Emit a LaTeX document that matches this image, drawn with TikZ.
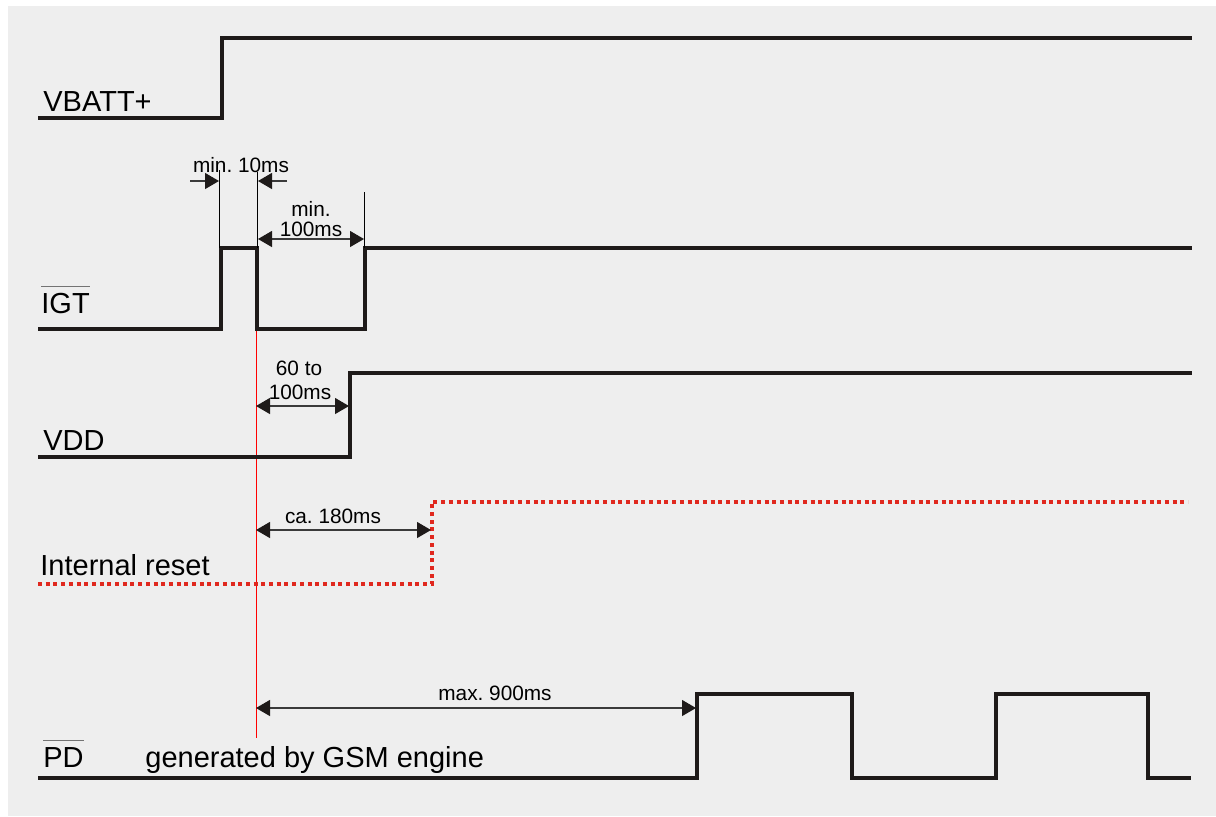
\documentclass[tikz,border=0pt]{standalone}
\usepackage{fontspec}
\setmainfont{Liberation Sans}
\usetikzlibrary{arrows.meta}
\definecolor{bgc}{HTML}{EEEEEE}
\definecolor{sigc}{HTML}{1E1A19}
\definecolor{rstc}{RGB}{224,40,30}
\definecolor{dimc}{HTML}{3A3A3A}
\newcommand\ovbar[1]{\leavevmode\vbox{\offinterlineskip\hbox{\color{black!55}\vrule height 0.5pt depth 0pt width \wd0}\kern 2.8pt\hbox{#1}}}
\newcommand\ovtext[1]{\setbox0\hbox{#1}\ovbar{#1}}
\begin{document}
\frenchspacing
\begin{tikzpicture}[x=0.5pt,y=-0.5pt,
  sig/.style={line width=2pt, draw=sigc, line join=miter},
  rst/.style={line width=2pt, draw=rstc, dash pattern=on 2pt off 1.85pt},
  dim/.style={line width=0.6pt, draw=dimc, {Triangle[length=7pt,width=8pt,color=sigc]}-{Triangle[length=7pt,width=8pt,color=sigc]}},
  onearrow/.style={line width=0.6pt, draw=dimc, -{Triangle[length=7pt,width=8pt,color=sigc]}},
  ext/.style={line width=0.5pt, draw=black},
  big/.style={font=\fontsize{14.5}{17}\selectfont, inner sep=0pt, anchor=base west},
  small/.style={font=\fontsize{10.4}{12}\selectfont, inner sep=0pt, anchor=base}]
\useasboundingbox (0,0) rectangle (1216,816);
\fill[bgc] (8,6) rectangle (1216,816);

% reference red line
\coordinate (r0) at (256,330);
\coordinate (r1) at (256,738);
\draw[line width=0.5pt, red] (r0) -- (r1);

% signals
\draw[sig] (38,118) -- (222,118) -- (222,38) -- (1192,38);
\draw[sig] (38,329) -- (221,329) -- (221,248) -- (257,248) -- (257,329) -- (365,329) -- (365,248) -- (1192,248);
\draw[sig] (38,457) -- (350,457) -- (350,373) -- (1192,373);
\draw[rst] (38,584) -- (432,584) -- (432,502) -- (1188,502);
\draw[sig] (38,778) -- (697,778) -- (697,694) -- (852,694) -- (852,778) -- (996,778) -- (996,694) -- (1148,694) -- (1148,778) -- (1191,778);

% labels
\node[big] (lvb) at (43,111) {VBATT+};
\node[big] (ligt) at (41,313) {\ovtext{IGT}};
\node[big] (lvdd) at (43,450) {VDD};
\node[big] (lrst) at (40,575) {Internal reset};
\node[big] (lpd) at (43,767) {\ovtext{PD}};
\node[big] (lgen) at (145,767) {generated by GSM engine};

% min. 10ms
\coordinate (e1a) at (219,170); \coordinate (e1b) at (219,248);
\coordinate (e2a) at (257,172); \coordinate (e2b) at (257,248);
\draw[ext] (e1a) -- (e1b);
\draw[ext] (e2a) -- (e2b);
\coordinate (m1s) at (190,181); \coordinate (m1e) at (219,181);
\coordinate (m2s) at (287,181); \coordinate (m2e) at (258,181);
\draw[onearrow] (m1s) -- (m1e);
\draw[onearrow] (m2s) -- (m2e);
\node[small] (t10) at (241,172) {min. 10ms};

% min. 100ms
\coordinate (e3a) at (364,192); \coordinate (e3b) at (364,248);
\draw[ext] (e3a) -- (e3b);
\coordinate (d1a) at (258,239); \coordinate (d1b) at (364,239);
\draw[dim] (d1a) -- (d1b);
\node[small] (t100a) at (311,216) {min.};
\node[small] (t100b) at (311,236) {100ms};

% 60 to 100ms
\coordinate (d2a) at (256,406); \coordinate (d2b) at (349,406);
\draw[dim] (d2a) -- (d2b);
\node[small] (t60a) at (299,375) {60 to};
\node[small] (t60b) at (300,399) {100ms};

% ca. 180ms
\coordinate (d3a) at (256,530); \coordinate (d3b) at (431,530);
\draw[dim] (d3a) -- (d3b);
\node[small] (t180) at (333,523) {ca. 180ms};

% max. 900ms
\coordinate (d4a) at (256,708); \coordinate (d4b) at (696,708);
\draw[dim] (d4a) -- (d4b);
\node[small] (t900) at (495,700) {max. 900ms};
\end{tikzpicture}
\end{document}
